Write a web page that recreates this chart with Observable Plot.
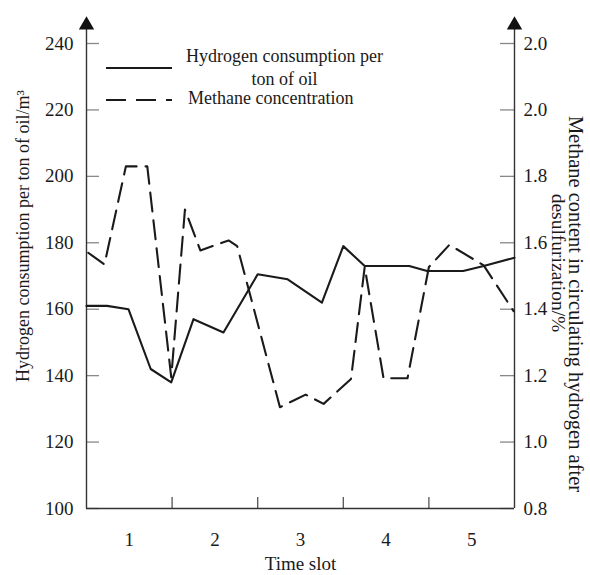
<!DOCTYPE html>
<html>
<head>
<meta charset="utf-8">
<script src="https://cdn.jsdelivr.net/npm/d3@7"></script>
<script src="https://cdn.jsdelivr.net/npm/@observablehq/plot@0.6"></script>
<style>
  html, body { margin: 0; padding: 0; background: #fff; }
  #chart svg { display: block; }
</style>
</head>
<body>
<div id="chart"></div>
<script>
// ---- data ----
const slots = [1, 2, 3, 4, 5];
const slotBounds = [1.5, 2.5, 3.5, 4.5];
const leftTicks = [100, 120, 140, 160, 180, 200, 220, 240];
const rightTickLabels = ["0.8", "1.0", "1.2", "1.4", "1.6", "1.8", "2.0", "2.0"];

// Hydrogen consumption per ton of oil (left axis, m3)
const hydrogenX = [0.5, 0.74, 0.99, 1.25, 1.49, 1.75, 2.1, 2.5, 2.85, 3.25, 3.5, 3.75, 4.27, 4.48, 4.9, 5.14, 5.5];
const hydrogenY = [161, 161, 160, 142, 138, 157, 153, 170.5, 169, 162, 179, 173, 173, 171.5, 171.5, 173, 175.5];

// Methane concentration (right axis, %)
const methaneX = [0.52, 0.71, 0.96, 1.21, 1.49, 1.65, 1.83, 2.16, 2.26, 2.76, 3.06, 3.27, 3.59, 3.75, 3.97, 4.25, 4.5, 4.74, 5.14, 5.49];
const methaneY = [1.57, 1.535, 1.83, 1.83, 1.195, 1.70, 1.577, 1.607, 1.59, 1.105, 1.143, 1.115, 1.19, 1.527, 1.192, 1.192, 1.527, 1.594, 1.532, 1.394];

const leftTitle = "Hydrogen consumption per ton of oil/m\u00B3";
const rightTitleLines = ["Methane content in circulating hydrogen after", "desulfurization/%"];
const xTitle = "Time slot";
const legendLabels = ["Hydrogen consumption per\nton of oil", "Methane concentration"];

// ---- layout ----
const W = 590, H = 575;
const mL = 86, mR = 76, mT = 43, mB = 67;
const frameW = W - mL - mR, frameH = H - mT - mB;
const xDomain = [0.5, 5.5];
const yDomain = [100, 240];
const rightDomain = [0.8, 2.2];
const toLeft = v => yDomain[0] + (v - rightDomain[0]) * (yDomain[1] - yDomain[0]) / (rightDomain[1] - rightDomain[0]);
const pxPerUnit = frameH / (yDomain[1] - yDomain[0]);
const axisTop = yDomain[1] + 14 / pxPerUnit;   // axis line extends above the top tick
const arrowY = yDomain[1] + 18.5 / pxPerUnit;

const hydrogen = hydrogenX.map((x, i) => ({x, y: hydrogenY[i]}));
const methane = methaneX.map((x, i) => ({x, y: toLeft(methaneY[i])}));

const font = "'Liberation Serif', 'Times New Roman', serif";
const ink = "#1a1a1a";

const plot = Plot.plot({
  width: W, height: H,
  marginLeft: mL, marginRight: mR, marginTop: mT, marginBottom: mB,
  x: {domain: xDomain},
  y: {domain: yDomain},
  style: {fontFamily: font, fontSize: "19px", color: ink, background: "#fff"},
  marks: [
    // tick labels
    Plot.axisY(leftTicks, {anchor: "left", tickSize: 0, tickPadding: 13, label: null, fontSize: 19}),
    Plot.axisY(leftTicks, {anchor: "right", tickSize: 0, tickPadding: 9, label: null, fontSize: 19,
      tickFormat: d => rightTickLabels[leftTicks.indexOf(d)]}),
    Plot.axisX(slots, {anchor: "bottom", tickSize: 0, tickPadding: 24, label: null, fontSize: 19,
      tickFormat: d => String(d)}),
    // inward ticks
    Plot.ruleY(leftTicks, {y: d => d, x1: xDomain[0], x2: xDomain[1], insetRight: frameW - 13, stroke: "#888", strokeWidth: 1.3}),
    Plot.ruleY(leftTicks, {y: d => d, x1: xDomain[0], x2: xDomain[1], insetLeft: frameW - 14, stroke: "#888", strokeWidth: 1.3}),
    Plot.ruleX(slotBounds, {x: d => d, insetTop: frameH - 11, stroke: "#555", strokeWidth: 1.3}),
    // axis lines
    Plot.ruleX(xDomain, {x: d => d, y1: yDomain[0], y2: axisTop, stroke: "#333", strokeWidth: 1.4}),
    Plot.ruleY([yDomain[0]], {x1: xDomain[0], x2: xDomain[1], stroke: "#333", strokeWidth: 1.4}),
    Plot.dot(xDomain, {x: d => d, y: () => arrowY, symbol: "triangle", r: 5.7, fill: "#111", stroke: null}),
    // data lines
    Plot.line(hydrogen, {x: "x", y: "y", stroke: ink, strokeWidth: 2.1}),
    Plot.line(methane, {x: "x", y: "y", stroke: ink, strokeWidth: 2.1, strokeDasharray: "19,9"}),
    // titles
    Plot.text([leftTitle], {frameAnchor: "left", textAnchor: "middle", rotate: -90, dx: -63, dy: -40, fontSize: 18, fill: ink}),
    Plot.text([rightTitleLines[0]], {frameAnchor: "right", textAnchor: "middle", rotate: 90, dx: 61, dy: 28, fontSize: 20.5, fill: ink}),
    Plot.text([rightTitleLines[1]], {frameAnchor: "right", textAnchor: "middle", rotate: 90, dx: 44, dy: -13, fontSize: 19.5, fill: ink}),
    Plot.text([xTitle], {frameAnchor: "bottom", dy: 61, fontSize: 19, fill: ink})
  ]
});

// legend (pixel-positioned decoration)
const svg = d3.select(plot);
const lg = svg.append("g").attr("font-family", font).attr("font-size", 18).attr("fill", ink);
lg.append("line").attr("x1", 106).attr("x2", 172).attr("y1", 68).attr("y2", 68)
  .attr("stroke", ink).attr("stroke-width", 2.1);
lg.append("line").attr("x1", 106).attr("x2", 172).attr("y1", 100).attr("y2", 100)
  .attr("stroke", ink).attr("stroke-width", 2.1).attr("stroke-dasharray", "20,10");
const l1 = legendLabels[0].split("\n");
lg.append("text").attr("x", 284.5).attr("y", 62).attr("text-anchor", "middle").text(l1[0]);
lg.append("text").attr("x", 284.5).attr("y", 85).attr("text-anchor", "middle").text(l1[1]);
lg.append("text").attr("x", 188).attr("y", 103.5).attr("text-anchor", "start").text(legendLabels[1]);

document.getElementById("chart").appendChild(plot);
</script>
</body>
</html>
